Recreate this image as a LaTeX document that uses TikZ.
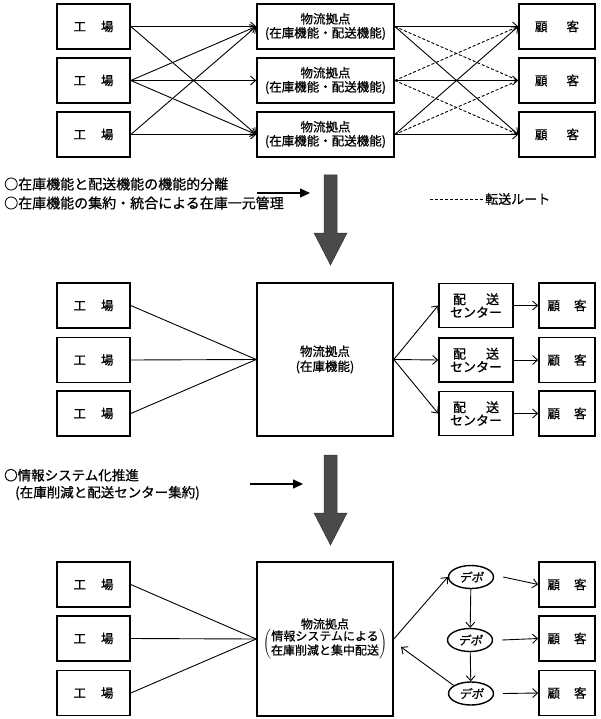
\documentclass[tikz,border=0pt]{standalone}
\usepackage{fontspec}
\setmainfont{Noto Sans CJK JP}[FakeBold=0.7]
\newfontfamily\depotfont[FakeSlant=0.2,FakeBold=0.7]{Noto Sans CJK JP}
\usepackage{xcolor}
\definecolor{cLine}{HTML}{000000}
\definecolor{cShade}{HTML}{4A4A4A}
\usepackage{tikz}
\usetikzlibrary{arrows.meta,shapes.geometric,calc}
\tikzset{
  node-box/.style={draw=cLine,line width=1.6pt,minimum height=45pt,inner sep=0pt,
    align=center,font=\fontsize{12.5}{14}\selectfont},
  node-depot/.style={draw=cLine,line width=1.4pt,ellipse,minimum width=45pt,
    minimum height=23pt,inner sep=0pt,font=\depotfont\fontsize{12}{14}\selectfont},
  node-note/.style={anchor=west,align=left,inner sep=0pt,font=\fontsize{14}{19}\selectfont},
  link/.style={line width=0.9pt,draw=cLine},
  arrow/.style={link,-{Straight Barb[length=5pt,width=9pt]}},
  arrow-route/.style={link,dash pattern=on 3pt off 2pt},
  arrow-note/.style={line width=1.3pt,draw=cLine,-{Triangle[length=10pt,width=9pt]}},
  big-arrow/.style={fill=cShade,draw=cShade!70!black,line width=0.5pt},
}
\begin{document}
\begin{tikzpicture}[x=1pt,y=-1pt]
  \useasboundingbox (0,0) rectangle (600,719);
  % 上段: 工場 - 物流拠点 - 顧客
  \foreach \i/\y in {1/26.5, 2/80.5, 3/134.5} {
    \node[node-box,minimum width=73pt] (F\i) at (93.5,\y) {工\hspace{15pt}場};
    \node[node-box,minimum width=137pt] (L\i) at (325.5,\y) {物流拠点\\(在庫機能・配送機能)};
    \node[node-box,minimum width=76pt] (C\i) at (557,\y) {顧\hspace{19pt}客};
  }
  \foreach \a/\b in {1/1,1/3,2/1,2/2,2/3,3/1,3/3}
    \draw[arrow] (F\a.east) -- (L\b.west);
  \foreach \a/\b in {1/1,1/3,2/2,3/1,3/3}
    \draw[arrow] (L\a.east) -- (C\b.west);
  \foreach \a/\b in {1/2,2/1,2/3,3/2}
    \draw[arrow-route] (L\a.east) -- (C\b.west);

  \node[node-note] (N1) at (4,193.5) {○在庫機能と配送機能の機能的分離\\○在庫機能の集約・統合による在庫一元管理};
  \coordinate (N1a) at (257,193);
  \coordinate (N1b) at (310,193);
  \draw[arrow-note] (N1a) -- (N1b);

  \coordinate (R0) at (430,199);
  \node[anchor=west,inner sep=0pt,font=\fontsize{13}{15}\selectfont] (R) at (485,199) {転送ルート};
  \draw[arrow-route] (R0) -- (R.west);

  \foreach \t in {175,455}
    \filldraw[big-arrow] (324,\t) -- ++(13,0) -- ++(0,58) -- ++(10,0) -- ++(-16.5,32)
      -- ++(-16.5,-32) -- ++(10,0) -- cycle;

  % 中段: 配送センター
  \foreach \i/\y in {1/305.5, 2/360, 3/413.5} {
    \node[node-box,minimum width=73pt] (G\i) at (93.5,\y) {工\hspace{15pt}場};
    \node[node-box,minimum width=74pt,minimum height=44pt,font=\fontsize{13}{13}\selectfont]
      (D\i) at (476,\y) {配\hspace{20pt}送\\センター};
    \node[node-box,minimum width=56pt] (K\i) at (567,\y) {顧\hspace{14pt}客};
  }
  \node[node-box,minimum width=136pt,minimum height=153pt,font=\fontsize{12.5}{15}\selectfont]
    (M) at (325,359.5) {物流拠点\\(在庫機能)};
  \foreach \i in {1,2,3} {
    \draw[link] (G\i.east) -- (M.west);
    \draw[arrow] (M.east) -- (D\i.west);
    \draw[arrow] (D\i.east) -- (K\i.west);
  }

  \node[node-note,font=\fontsize{13.5}{17}\selectfont] (N2) at (4,484.5)
    {○情報システム化推進\\\hspace*{11pt}(在庫削減と配送センター集約)};
  \coordinate (N2a) at (250,484);
  \coordinate (N2b) at (303,484);
  \draw[arrow-note] (N2a) -- (N2b);

  % 下段: デポ
  \foreach \i/\y in {1/584.5, 2/638.5, 3/693} {
    \node[node-box,minimum width=73pt] (H\i) at (93.5,\y) {工\hspace{15pt}場};
    \node[node-box,minimum width=56pt] (P\i) at (567,\y) {顧\hspace{14pt}客};
  }
  \node[node-depot] (E1) at (471,577) {デポ};
  \node[node-depot] (E2) at (470,640) {デポ};
  \node[node-depot] (E3) at (471,693.5) {デポ};
  \node[node-box,minimum width=136pt,minimum height=154pt,font=\fontsize{12}{13.5}\selectfont]
    (B) at (325,639) {物流拠点\\[-1pt]$\left(\vcenter{\hbox{\begin{tabular}{@{}c@{}}情報システムによる\\在庫削減と集中配送\end{tabular}}}\right)$};
  \foreach \i in {1,2,3} {
    \draw[link] (H\i.east) -- (B.west);
    \draw[arrow] ([xshift=9pt]E\i.east) -- (P\i.west);
  }
  \draw[arrow] (B.east) -- (E1.west);
  \draw[arrow] (E1) -- (E2);
  \draw[arrow] (E2) -- (E3);
  \coordinate (Bin) at (401,647);
  \draw[arrow] (E3.155) -- (Bin);
\end{tikzpicture}
\end{document}
